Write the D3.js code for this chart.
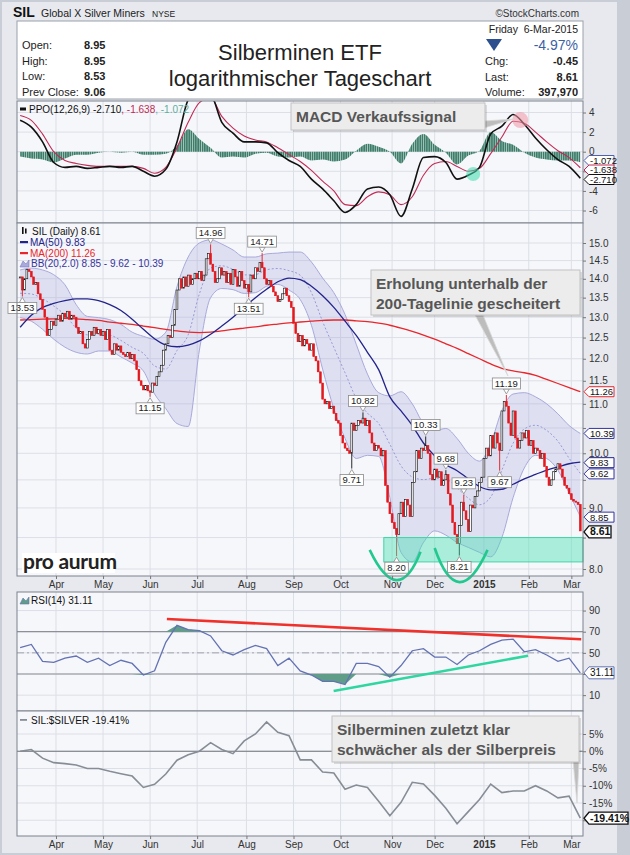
<!DOCTYPE html>
<html><head><meta charset="utf-8">
<script src="https://cdn.jsdelivr.net/npm/d3@7"></script>
<style>body{margin:0;background:#fff}svg{display:block}</style>
</head><body>
<svg id="chart" width="630" height="855"></svg>
<script>
// ---------------- DATA ----------------
const holidays = ["2014-04-18","2014-05-26","2014-07-04","2014-09-01","2014-11-27","2014-12-25","2015-01-01","2015-01-19","2015-02-16"];
const firstDay = "2014-03-10", lastDay = "2015-03-06";
// daily closes (one per trading day)
const closes = [14.05,13.70,14.00,14.25,14.20,14.05,13.85,13.90,13.60,13.45,
13.20,13.00,12.55,12.70,12.90,12.80,12.95,13.05,12.90,13.10,
13.00,13.15,12.95,13.05,13.00,12.75,12.60,12.65,12.35,12.25,
12.45,12.65,12.55,12.75,12.60,12.70,12.55,12.65,12.45,12.70,
12.20,12.10,12.35,12.20,12.30,12.15,12.10,12.05,12.15,12.00,
12.10,11.95,11.75,11.50,11.40,11.30,11.40,11.28,11.25,11.45,
11.40,11.60,11.70,11.85,12.20,12.35,12.55,12.50,12.80,13.20,
13.70,14.00,13.75,14.05,13.80,14.10,13.85,14.00,14.15,14.00,
14.20,13.95,14.10,14.55,14.70,14.40,14.20,13.90,14.00,14.30,
14.10,14.20,13.90,14.15,13.85,14.25,14.05,13.80,14.20,13.95,
13.75,13.85,13.65,14.10,14.00,14.30,14.20,14.45,14.30,14.00,
13.85,13.95,13.80,13.65,13.55,13.40,13.45,13.60,13.75,13.55,
13.40,13.25,12.85,12.60,12.40,12.55,12.30,12.45,12.35,12.20,
12.35,12.05,11.95,11.70,11.45,11.10,11.00,11.05,10.90,10.95,
10.80,10.65,10.60,10.35,10.20,10.10,10.05,10.00,10.60,10.45,
10.55,10.65,10.60,10.70,10.55,10.65,10.40,10.20,10.05,10.15,
10.10,9.95,10.05,9.40,9.10,8.90,8.75,8.65,8.55,8.90,
9.10,8.85,9.15,9.05,8.85,9.45,9.65,10.05,9.90,10.10,
10.05,10.15,10.00,9.60,9.50,9.70,9.55,9.65,9.40,9.50,
9.60,9.25,9.05,8.75,8.55,8.40,8.70,9.10,8.95,8.80,
8.60,9.05,9.00,9.20,9.30,9.45,9.55,9.90,10.10,9.95,
10.35,10.10,10.40,10.20,10.05,10.85,11.05,10.95,10.60,10.35,
10.85,10.30,10.10,10.25,10.40,10.30,10.45,10.15,10.25,10.00,
10.10,10.05,9.90,10.00,9.75,9.55,9.40,9.50,9.65,9.70,
9.80,9.70,9.55,9.40,9.35,9.25,9.15,9.12,9.10,9.06,
8.61];
// indicator series, one value every 5th trading day (0,5,...,250)
const sampleStep = 5;
const ma50 = [12.75,13.05,13.25,13.35,13.42,13.47,13.47,13.42,13.32,13.17,12.95,12.70,12.47,12.32,12.28,12.32,12.42,12.58,12.78,13.00,13.25,13.50,13.72,13.92,14.02,13.98,13.80,13.55,13.25,12.90,12.55,12.15,11.75,11.15,10.85,10.55,10.20,9.95,9.78,9.67,9.52,9.38,9.32,9.33,9.42,9.52,9.60,9.68,9.74,9.80,9.83];
const ma200 = [12.93,12.94,12.95,12.96,12.97,12.96,12.94,12.92,12.88,12.85,12.82,12.78,12.74,12.70,12.66,12.63,12.62,12.63,12.66,12.70,12.73,12.76,12.80,12.83,12.86,12.88,12.90,12.92,12.93,12.93,12.91,12.89,12.85,12.80,12.73,12.65,12.56,12.46,12.35,12.24,12.12,12.00,11.88,11.78,11.72,11.68,11.62,11.53,11.44,11.35,11.26];
const bbUpper = [14.24,14.29,14.24,14.11,13.84,13.32,13.02,12.99,12.94,12.82,12.63,12.53,12.46,12.63,13.79,14.60,15.00,15.09,14.97,14.80,14.60,14.60,14.69,14.71,14.74,14.74,14.46,14.02,13.63,13.07,12.34,11.65,11.24,11.17,11.26,11.00,10.59,10.45,10.49,10.29,10.00,9.85,10.19,10.86,11.21,11.24,11.15,11.00,10.79,10.55,10.39];
const bbLower = [12.99,12.90,12.70,12.46,12.27,12.15,12.11,12.18,12.18,12.04,11.90,11.72,11.21,10.90,10.59,10.53,12.20,13.50,13.74,13.71,13.61,13.63,13.80,13.85,13.70,13.45,12.80,11.76,10.90,10.29,9.90,9.96,9.94,9.18,8.26,8.11,8.42,8.61,8.54,8.42,8.34,8.26,8.19,8.50,9.18,9.72,9.96,9.90,9.68,9.26,8.85];
const ppoLine = [3.2,2.5,1.0,-1.1,-1.6,-1.5,-1.7,-1.6,-1.5,-1.6,-1.5,-2.0,-2.5,-1.8,1.0,5.3,6.3,5.9,3.0,1.9,1.0,1.0,0.9,-0.1,-0.9,-1.5,-2.8,-3.8,-5.0,-6.2,-5.4,-3.8,-3.6,-4.4,-6.6,-3.8,-0.6,-0.5,-1.1,-2.8,-2.4,-1.6,1.8,2.6,3.8,2.8,1.4,0.2,-0.8,-1.5,-2.71];
const ppoSignal = [3.7,3.2,1.8,0.0,-0.9,-1.2,-1.4,-1.5,-1.5,-1.5,-1.5,-1.7,-2.2,-1.6,0.4,3.0,5.0,5.5,3.6,2.4,1.6,1.2,1.0,0.4,-0.3,-1.0,-1.9,-3.0,-4.0,-5.4,-5.5,-4.6,-4.1,-4.4,-5.4,-4.6,-2.4,-1.2,-1.0,-1.5,-2.0,-1.7,-0.2,1.5,3.1,2.9,2.0,1.0,0.1,-0.6,-1.638];
const rsi14 = [55,58,42,41,45,47,41,45,38,43,40,29,33,60,76,72,71,66,52,48,53,57,54,38,45,33,29,23,23,20,40,40,37,27,38,52,54,46,46,39,48,52,58,62,63,51,53,48,42,45,31.11];
const relPerf = [0,0.5,-2.0,-3.3,-3.6,-4.0,-5.0,-5.0,-5.8,-6.5,-7.2,-10.5,-9.6,-6.6,-2.6,-1.0,0.0,2.5,0.5,-0.7,3.0,5.0,8.5,5.5,4.5,-2.5,-2.5,-6.0,-6.3,-11.0,-9.8,-10.5,-14.5,-18.7,-14.8,-9.0,-9.5,-12.8,-16.5,-21.0,-17.5,-14.0,-9.5,-12.0,-11.5,-11.5,-10.0,-11.5,-13.5,-13.0,-19.41];
// labelled highs / lows (trading-day index, value)
const extremes = [
 {i:1,v:13.53,dir:"low"},{i:58,v:11.15,dir:"low"},{i:85,v:14.96,dir:"high"},
 {i:102,v:13.51,dir:"low"},{i:108,v:14.71,dir:"high"},{i:148,v:9.71,dir:"low"},
 {i:153,v:10.82,dir:"high"},{i:168,v:8.20,dir:"low"},{i:181,v:10.33,dir:"high"},
 {i:190,v:9.68,dir:"high"},{i:196,v:8.21,dir:"low"},{i:198,v:9.23,dir:"high"},
 {i:214,v:9.67,dir:"low"},{i:217,v:11.19,dir:"high"}];
const priceTicks = [8.0,8.5,9.0,9.5,10.0,10.5,11.0,11.5,12.0,12.5,13.0,13.5,14.0,14.5,15.0];
const macdTicks = [4,2,0,-2,-4,-6];
const rsiTicks = [10,30,50,70,90];
const relTicks = [5,0,-5,-10,-15,-20];
const info = [["Open:","8.95"],["High:","8.95"],["Low:","8.53"],["Prev Close:","9.06"]];
const infoRight = [["Chg:","-0.45"],["Last:","8.61"],["Volume:","397,970"]];
// annotations (index / value space)
const supportZone = {from:162.3, to:251.2, lo:8.11, hi:8.50};
const bottomArcs = [[[156,8.30],[168,7.83],[178.7,8.27]],[[185,8.33],[196.1,7.80],[208.6,8.30]]];
const rsiTrends = [{a:[65.5,82],b:[250.4,62.8],c:"#f0302a"},{a:[139.9,13.9],b:[226.7,47.3],c:"#2fd6a0"}];
const macdMarks = [{i:223.2,v:3.23,c:"rgba(240,150,165,0.55)",r:8},{i:202.2,v:-2.28,c:"rgba(60,220,175,0.55)",r:7}];

// ---------------- SETUP ----------------
const FONT = "'Liberation Sans', Arial, Helvetica, sans-serif";
const svg = d3.select("#chart");
const fmtD = d3.timeFormat("%Y-%m-%d");
const dates = d3.timeDay.range(new Date(2014,2,10), new Date(2015,2,7))
  .filter(d => d.getDay()%6!==0 && !holidays.includes(fmtD(d)));
const X0 = 17, X1 = 583;
const x = d3.scaleLinear().domain([-1.4, 251.2]).range([X0, X1]);
const sIdx = d3.range(0, closes.length, sampleStep);
const monthIdx = dates.map((d,i)=>i).filter(i => i>0 && dates[i].getMonth()!==dates[i-1].getMonth());

const P = {macd:[101,223], main:[223,576], rsi:[592,711], rel:[711,836]};
const yP = d3.scaleLog().domain([15, 8]).range([243, 569]);
const yM = d3.scaleLinear().domain([4, -6]).range([112.5, 210.5]);
const yR = d3.scaleLinear().domain([70, 30]).range([631.7, 674]);
const yQ = d3.scaleLinear().domain([5, -15]).range([734, 803]);

// background
svg.append("rect").attr("width",630).attr("height",855).attr("fill","#c9cdd5");
svg.append("rect").attr("x",2).attr("y",2).attr("width",615).attr("height",851).attr("fill","#e7e9ee");

const defs = svg.append("defs");
Object.entries(P).forEach(([k,[a,b]])=>{
  defs.append("clipPath").attr("id","clip-"+k).append("rect").attr("x",X0).attr("y",a).attr("width",X1-X0).attr("height",b-a);
});
const hp = defs.append("pattern").attr("id","histPat").attr("patternUnits","userSpaceOnUse").attr("width",2.243).attr("height",10);
hp.append("rect").attr("width",1.5).attr("height",10).attr("fill","#3d7c69");
hp.append("rect").attr("x",1.5).attr("width",0.743).attr("height",10).attr("fill","#a9c9bf");

// panels
function panel(key, yScale, ticks){
  const [a,b] = P[key];
  svg.append("rect").attr("x",X0).attr("y",a).attr("width",X1-X0).attr("height",b-a).attr("fill","#f6f7fa");
  const g = svg.append("g").attr("clip-path",`url(#clip-${key})`);
  monthIdx.forEach(i=>g.append("line").attr("x1",x(i)).attr("x2",x(i)).attr("y1",a).attr("y2",b).attr("stroke","#dcdfe7").attr("stroke-width",1));
  ticks.forEach(t=>g.append("line").attr("x1",X0).attr("x2",X1).attr("y1",yScale(t)).attr("y2",yScale(t)).attr("stroke","#dcdfe7").attr("stroke-width",1));
  return g;
}
function border(key){
  const [a,b] = P[key];
  svg.append("rect").attr("x",X0).attr("y",a).attr("width",X1-X0).attr("height",b-a).attr("fill","none").attr("stroke","#7d828c").attr("stroke-width",1);
}
// labels covered by value tags in the original are left out (hidden)
function yAxis(scale, ticks, f, hidden){
  hidden = hidden || [];
  const g = svg.append("g").attr("transform",`translate(${X1},0)`)
    .call(d3.axisRight(scale).tickValues(ticks).tickSize(3).tickPadding(3).tickFormat(d=>hidden.includes(d)?"":f(d)));
  g.select(".domain").remove();
  g.selectAll("line").attr("stroke","#777");
  g.selectAll("text").attr("font-family",FONT).attr("font-size",10).attr("fill","#333");
}
function xAxis(yPos){
  const g = svg.append("g").attr("transform",`translate(0,${yPos})`)
    .call(d3.axisBottom(x).tickValues(monthIdx).tickSize(3).tickPadding(2)
      .tickFormat(i=> dates[i].getMonth()===0 ? String(dates[i].getFullYear()) : d3.timeFormat("%b")(dates[i])));
  g.select(".domain").remove();
  g.selectAll("line").attr("stroke","#777");
  g.selectAll("text").attr("font-family",FONT).attr("font-size",10).attr("fill","#333")
    .attr("font-weight",(i)=>dates[i].getMonth()===0?"bold":"normal");
}
function tag(yv, txt, stroke, bold, w, h, fs){
  const x0 = X1+1; h = h||12;
  svg.append("path").attr("d",`M${x0},${yv}L${x0+5},${yv-h/2}L${x0+w},${yv-h/2}L${x0+w},${yv+h/2}L${x0+5},${yv+h/2}Z`)
    .attr("fill","#fff").attr("stroke",stroke).attr("stroke-width",bold?1.3:1);
  svg.append("text").attr("x",x0+6).attr("y",yv+3.4).text(txt).attr("font-family",FONT)
    .attr("font-size",fs||(bold?11:(h<12?9.5:10))).attr("font-weight",bold?"bold":"normal").attr("fill","#111");
}
function callout(bx,by,bw,bh,lines,ptr){
  svg.append("polygon").attr("points",ptr.map(p=>p.join(",")).join(" ")).attr("fill","#bdbdbd").attr("stroke","#d8d8d8").attr("stroke-width",0.8);
  svg.append("rect").attr("x",bx+2).attr("y",by+2).attr("width",bw).attr("height",bh).attr("fill","rgba(0,0,0,0.12)");
  svg.append("rect").attr("x",bx).attr("y",by).attr("width",bw).attr("height",bh).attr("fill","#ececec").attr("stroke","#c2c2c2");
  lines.forEach((t,j)=>svg.append("text").attr("x",bx+5).attr("y",by+19+j*19.5).text(t)
    .attr("font-family",FONT).attr("font-size",15.5).attr("font-weight","bold").attr("fill","#565656"));
}

// ---------------- HEADER ----------------
svg.append("text").attr("x",13).attr("y",17).text("SIL").attr("font-family",FONT).attr("font-size",14).attr("font-weight","bold").attr("fill","#111");
svg.append("text").attr("x",41).attr("y",17).text("Global X Silver Miners").attr("font-family",FONT).attr("font-size",10.5).attr("fill","#222");
svg.append("text").attr("x",152).attr("y",17).text("NYSE").attr("font-family",FONT).attr("font-size",8.5).attr("fill","#222");
svg.append("text").attr("x",579).attr("y",17).attr("text-anchor","end").text("©StockCharts.com").attr("font-family",FONT).attr("font-size",10).attr("fill","#333");
svg.append("rect").attr("x",X0).attr("y",21).attr("width",X1-X0).attr("height",78).attr("fill","#fff").attr("stroke","#9aa0aa");
info.forEach((r,j)=>{
  const yy = 49 + j*15.7;
  svg.append("text").attr("x",22).attr("y",yy).text(r[0]).attr("font-family",FONT).attr("font-size",11).attr("fill","#222");
  svg.append("text").attr("x",84).attr("y",yy).text(r[1]).attr("font-family",FONT).attr("font-size",11).attr("font-weight","bold").attr("fill","#222");
});
svg.append("text").attr("x",300).attr("y",60).attr("text-anchor","middle").text("Silberminen ETF").attr("font-family",FONT).attr("font-size",22).attr("fill","#222");
svg.append("text").attr("x",300).attr("y",86).attr("text-anchor","middle").text("logarithmischer Tageschart").attr("font-family",FONT).attr("font-size",22).attr("fill","#222");
svg.append("text").attr("x",578).attr("y",33).attr("text-anchor","end").text("Friday  6-Mar-2015").attr("font-family",FONT).attr("font-size",10.5).attr("fill","#222").attr("xml:space","preserve");
svg.append("polygon").attr("points","486,39 502,39 494,51").attr("fill","#2d4f8e");
svg.append("text").attr("x",578).attr("y",50).attr("text-anchor","end").text("-4.97%").attr("font-family",FONT).attr("font-size",14).attr("fill","#3d5fa5");
infoRight.forEach((r,j)=>{
  const yy = 65 + j*15.7;
  svg.append("text").attr("x",485).attr("y",yy).text(r[0]).attr("font-family",FONT).attr("font-size",11).attr("fill","#222");
  svg.append("text").attr("x",578).attr("y",yy).attr("text-anchor","end").text(r[1]).attr("font-family",FONT).attr("font-size",11).attr("font-weight","bold").attr("fill","#222");
});

// ---------------- MACD / PPO PANEL ----------------
const gM = panel("macd", yM, macdTicks);
gM.append("path").datum(sIdx).attr("fill","url(#histPat)")
  .attr("d", d3.area().x(i=>x(i)).y0(yM(0)).y1((i,k)=>yM(ppoLine[k]-ppoSignal[k])).curve(d3.curveMonotoneX));
gM.append("path").datum(sIdx).attr("fill","none").attr("stroke","#c22a55").attr("stroke-width",1.1)
  .attr("d", d3.line().x(i=>x(i)).y((i,k)=>yM(ppoSignal[k])).curve(d3.curveMonotoneX));
gM.append("path").datum(sIdx).attr("fill","none").attr("stroke","#111").attr("stroke-width",1.6)
  .attr("d", d3.line().x(i=>x(i)).y((i,k)=>yM(ppoLine[k])).curve(d3.curveMonotoneX));
macdMarks.forEach(m=>gM.append("circle").attr("cx",x(m.i)).attr("cy",yM(m.v)).attr("r",m.r).attr("fill",m.c));
border("macd");
yAxis(yM, macdTicks, d=>String(d), [-2]);
svg.append("rect").attr("x",20).attr("y",107.5).attr("width",6).attr("height",3).attr("fill","#111");
const lt = svg.append("text").attr("x",29).attr("y",113).attr("font-family",FONT).attr("font-size",10);
lt.append("tspan").text("PPO(12,26,9) -2.710").attr("fill","#111");
lt.append("tspan").text(", -1.638").attr("fill","#c22a55");
lt.append("tspan").text(", -1.072").attr("fill","#5fae9c");
callout(291,103,194,27,["MACD Verkaufssignal"],[[484,121],[484,128],[514,119]]);
tag(160.5,"-1.072","#5060b0",false,30,10);
tag(170,"-1.638","#c22a55",false,30,10);
tag(179.5,"-2.710","#111",false,30,10);

// ---------------- MAIN PRICE PANEL ----------------
const gP = panel("main", yP, priceTicks);
gP.append("path").datum(sIdx).attr("fill","rgba(160,160,220,0.28)").attr("stroke","none")
  .attr("d", d3.area().x(i=>x(i)).y0((i,k)=>yP(bbLower[k])).y1((i,k)=>yP(bbUpper[k])).curve(d3.curveMonotoneX));
[bbUpper,bbLower].forEach(arr=>gP.append("path").datum(sIdx).attr("fill","none").attr("stroke","#a9a9dc").attr("stroke-width",1)
  .attr("d", d3.line().x(i=>x(i)).y((i,k)=>yP(arr[k])).curve(d3.curveMonotoneX)));
gP.append("path").datum(sIdx).attr("fill","none").attr("stroke","#9a9ad6").attr("stroke-width",1).attr("stroke-dasharray","2,2")
  .attr("d", d3.line().x(i=>x(i)).y((i,k)=>yP((bbUpper[k]+bbLower[k])/2)).curve(d3.curveMonotoneX));
gP.append("path").datum(sIdx).attr("fill","none").attr("stroke","#e8262b").attr("stroke-width",1.3)
  .attr("d", d3.line().x(i=>x(i)).y((i,k)=>yP(ma200[k])).curve(d3.curveMonotoneX));
gP.append("path").datum(sIdx).attr("fill","none").attr("stroke","#23238c").attr("stroke-width",1.3)
  .attr("d", d3.line().x(i=>x(i)).y((i,k)=>yP(ma50[k])).curve(d3.curveMonotoneX));
// candles
closes.forEach((c,i)=>{
  const o = i>0 ? closes[i-1] : c;
  const up = c >= o;
  const col = up ? "#111" : "#e3191f";
  let hi = Math.max(o,c), lo = Math.min(o,c);
  const ex = extremes.find(e=>e.i===i);
  if(ex){ if(ex.dir==="high") hi = ex.v; else lo = ex.v; }
  gP.append("line").attr("x1",x(i)).attr("x2",x(i)).attr("y1",yP(hi)).attr("y2",yP(lo)).attr("stroke",col).attr("stroke-width",0.9);
  const top = yP(Math.max(o,c)), bot = yP(Math.min(o,c));
  gP.append("rect").attr("x",x(i)-0.9).attr("width",1.8).attr("y",top).attr("height",Math.max(1,bot-top))
    .attr("fill", up ? "#fff" : col).attr("stroke",col).attr("stroke-width",0.6);
});
// support zone
svg.append("rect").attr("x",x(supportZone.from)).attr("y",yP(supportZone.hi)).attr("width",Math.min(X1,x(supportZone.to))-x(supportZone.from))
  .attr("height",yP(supportZone.lo)-yP(supportZone.hi)).attr("fill","rgba(64,224,176,0.42)").attr("stroke","#3fd6a6").attr("stroke-width",1);
// high / low labels
extremes.forEach(e=>{
  const cx = x(e.i), py = yP(e.v), h = 11;
  const g = svg.append("g");
  const t = g.append("text").text(e.v.toFixed(2)).attr("font-family",FONT).attr("font-size",9.5).attr("fill","#222").attr("text-anchor","middle");
  const w = t.node().getComputedTextLength()+5;
  const by = e.dir==="high" ? py-6-h : py+6;
  const tri = e.dir==="high" ? [[cx-3,by+h],[cx+3,by+h],[cx,py-1]] : [[cx-3,by],[cx+3,by],[cx,py+1]];
  g.insert("polygon","text").attr("points",tri.map(p=>p.join(",")).join(" ")).attr("fill","#fff").attr("stroke","#8a8a8a").attr("stroke-width",0.8);
  g.insert("rect","text").attr("x",cx-w/2).attr("y",by).attr("width",w).attr("height",h).attr("fill","#fff").attr("stroke","#8a8a8a").attr("stroke-width",0.8);
  t.attr("x",cx).attr("y",by+8.6);
});
bottomArcs.forEach(a=>{
  const p0=[x(a[0][0]),yP(a[0][1])], p1=[x(a[1][0]),yP(a[1][1])], p2=[x(a[2][0]),yP(a[2][1])];
  const c=[2*p1[0]-(p0[0]+p2[0])/2, 2*p1[1]-(p0[1]+p2[1])/2];
  const pth=d3.path(); pth.moveTo(p0[0],p0[1]); pth.quadraticCurveTo(c[0],c[1],p2[0],p2[1]);
  svg.append("path").attr("d",pth.toString()).attr("fill","none").attr("stroke","#22c98f").attr("stroke-width",2.6);
});
border("main");
yAxis(yP, priceTicks, d3.format(".1f"), [10.5, 9.5, 8.5]);
xAxis(P.main[1]);
// legend
svg.append("rect").attr("x",22).attr("y",227).attr("width",1.6).attr("height",7).attr("fill","#111");
svg.append("rect").attr("x",25).attr("y",228.5).attr("width",1.6).attr("height",5).attr("fill","#111");
svg.append("text").attr("x",32).attr("y",235).text("SIL (Daily) 8.61").attr("font-family",FONT).attr("font-size",10).attr("fill","#111");
svg.append("rect").attr("x",20).attr("y",241).attr("width",8).attr("height",2.2).attr("fill","#23238c");
svg.append("text").attr("x",30).attr("y",246).text("MA(50) 9.83").attr("font-family",FONT).attr("font-size",10).attr("fill","#23238c");
svg.append("rect").attr("x",20).attr("y",252).attr("width",8).attr("height",2.2).attr("fill","#e8262b");
svg.append("text").attr("x",30).attr("y",257).text("MA(200) 11.26").attr("font-family",FONT).attr("font-size",10).attr("fill","#e8262b");
svg.append("path").attr("d","M20,267L23,261L26,264L29,260L29,267Z").attr("fill","#a9a9dc").attr("stroke","#7b7bc4").attr("stroke-width",0.6);
svg.append("text").attr("x",31).attr("y",267).text("BB(20,2.0) 8.85 - 9.62 - 10.39").attr("font-family",FONT).attr("font-size",10).attr("fill","#3434a0");
// pro aurum logo
svg.append("rect").attr("x",22).attr("y",553).attr("width",93).attr("height",20).attr("fill","#fff");
svg.append("text").attr("x",23).attr("y",569).text("pro aurum").attr("font-family","Lato, 'Open Sans', sans-serif").attr("font-size",21).attr("font-weight","bold").attr("fill","#222").attr("letter-spacing",-0.3);
callout(371,270,209,45,["Erholung unterhalb der","200-Tagelinie gescheitert"],[[475,315],[483,315],[508,376]]);
tag(yP(11.26),"11.26","#e8262b",false,30,10,9.5);
tag(yP(10.39),"10.39","#3434a0",false,30,10,9.5);
tag(yP(9.83)+0.5,"9.83","#23238c",false,30,10,9.5);
tag(yP(9.62)+0.5,"9.62","#3434a0",false,30,10,9.5);
tag(yP(8.85)+0.5,"8.85","#3434a0",false,30,10,9.5);
tag(yP(8.61)+1,"8.61","#111",true,27,12,10.5);

// ---------------- RSI PANEL ----------------
const gR = panel("rsi", yR, rsiTicks);
gR.append("line").attr("x1",X0).attr("x2",X1).attr("y1",yR(70)).attr("y2",yR(70)).attr("stroke","#8c9098").attr("stroke-width",1.2);
gR.append("line").attr("x1",X0).attr("x2",X1).attr("y1",yR(30)).attr("y2",yR(30)).attr("stroke","#8c9098").attr("stroke-width",1.2);
gR.append("line").attr("x1",X0).attr("x2",X1).attr("y1",yR(50)).attr("y2",yR(50)).attr("stroke","#a0a4ab").attr("stroke-width",1).attr("stroke-dasharray","7,3,2,3");
gR.append("path").datum(sIdx).attr("fill","#5f9d89")
  .attr("d", d3.area().x(i=>x(i)).y0(yR(70)).y1((i,k)=>yR(Math.max(70,rsi14[k]))));
gR.append("path").datum(sIdx).attr("fill","#5f9d89")
  .attr("d", d3.area().x(i=>x(i)).y0(yR(30)).y1((i,k)=>yR(Math.min(30,rsi14[k]))));
gR.append("path").datum(sIdx).attr("fill","none").attr("stroke","#6372b3").attr("stroke-width",1.3)
  .attr("d", d3.line().x(i=>x(i)).y((i,k)=>yR(rsi14[k])));
rsiTrends.forEach(t=>svg.append("line").attr("x1",x(t.a[0])).attr("y1",yR(t.a[1])).attr("x2",x(t.b[0])).attr("y2",yR(t.b[1])).attr("stroke",t.c).attr("stroke-width",2.6));
border("rsi");
yAxis(yR, rsiTicks, d=>String(d), [30]);
svg.append("path").attr("d","M20,604L23,598L26,601L29,597L29,604Z").attr("fill","#5f9d89").attr("stroke","#6372b3").attr("stroke-width",0.6);
svg.append("text").attr("x",31).attr("y",604).text("RSI(14) 31.11").attr("font-family",FONT).attr("font-size",10).attr("fill","#111");
tag(yR(31.11),"31.11","#6372b3",false,30);

// ---------------- SIL:$SILVER PANEL ----------------
const gQ = panel("rel", yQ, relTicks);
gQ.append("line").attr("x1",X0).attr("x2",X1).attr("y1",yQ(0)).attr("y2",yQ(0)).attr("stroke","#6f737b").attr("stroke-width",1.1);
gQ.append("path").datum(sIdx).attr("fill","none").attr("stroke","#878d96").attr("stroke-width",1.6)
  .attr("d", d3.line().x(i=>x(i)).y((i,k)=>yQ(relPerf[k])));
border("rel");
yAxis(yQ, relTicks, d=>d+"%", [-20]);
xAxis(P.rel[1]);
svg.append("rect").attr("x",20).attr("y",719).attr("width",7).attr("height",1.8).attr("fill","#878d96");
svg.append("text").attr("x",31).attr("y",724).text("SIL:$SILVER -19.41%").attr("font-family",FONT).attr("font-size",10).attr("fill","#111");
callout(332,716,247,46,["Silberminen zuletzt klar","schwächer als der Silberpreis"],[[573,760],[579,760],[577,803]]);
tag(yQ(-19.41),"-19.41%","#111",true,44,12,10.5);
</script>
</body></html>
